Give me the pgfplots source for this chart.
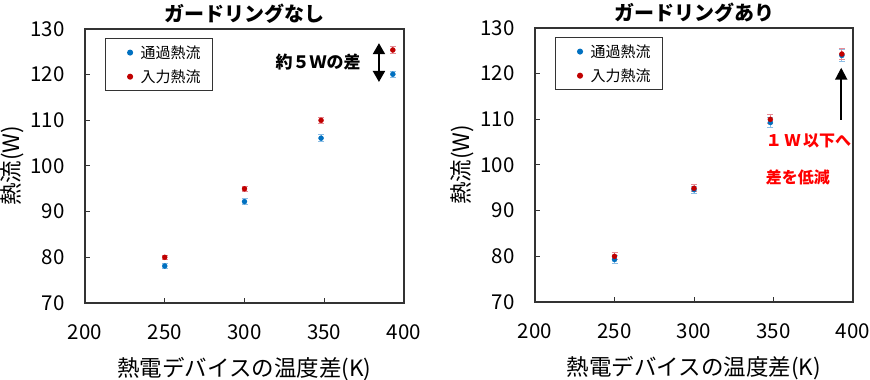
\documentclass[border=0pt]{standalone}
\usepackage{fontspec}
\setmainfont{Noto Sans CJK JP}
\usepackage{pgfplots}
\pgfplotsset{compat=1.18}
\usetikzlibrary{arrows.meta}
\definecolor{cblue}{RGB}{0,112,192}
\definecolor{cred}{RGB}{192,0,0}
\definecolor{eblue}{RGB}{140,190,230}
\definecolor{ered}{RGB}{230,140,150}
\pgfplotsset{myax/.style={
  scale only axis, height=274pt,
  xmin=200,xmax=400,ymin=70,ymax=130,
  xtick={200,250,...,400}, ytick={70,80,...,130},
  tick pos=left, tick align=inside, major tick length=5pt,
  axis line style={black!80, line width=1.2pt},
  every tick/.style={black!80, line width=1pt},
  /pgf/number format/assume math mode=true,
  tick label style={font=\fontsize{20.5}{20.5}\selectfont},
  xticklabel style={yshift=-18pt},
  yticklabel style={xshift=-17pt},
  label style={font=\fontsize{22.5}{22.5}\selectfont},
  xlabel={熱電デバイスの温度差(K)},
  ylabel={熱流(W)},
  xlabel style={at={(axis description cs:0.5,-0.243)},anchor=center},
  ylabel style={at={(axis description cs:-0.228,0.5)},anchor=center},
  title style={font=\bfseries\fontsize{20}{20}\selectfont, yshift=-4pt},
  legend style={draw=black!80, line width=1pt, font=\fontsize{15}{15}\selectfont,
     at={(0.063,0.967)}, anchor=north west, inner xsep=10pt, inner ysep=5pt,
     row sep=6pt},
  legend cell align=left,
  error bars/y dir=both, error bars/y explicit,
}}
\pgfplotsset{myleg/.style={legend image code/.code={%
  \draw[draw opacity=0] (0pt,0pt) -- (22pt,0pt);
  \draw[##1] plot coordinates {(14pt,0pt)};}}}
\begin{document}
\begin{tikzpicture}
\useasboundingbox (0,0) rectangle (870pt,380pt);
\begin{axis}[myax, width=319pt, at={(85pt,77pt)}, anchor=south west, title={ガードリングなし}]
\addplot[only marks, mark=*, mark size=2.5pt, cblue, mark options={cblue}, myleg,
  error bars/error bar style={eblue, line width=1pt},
  error bars/error mark options={rotate=90, mark size=3pt, eblue, line width=1pt}]
  coordinates {(250,78.1) +- (0,0.5) (300,92.2) +- (0,0.6) (348,106.1) +- (0,0.7) (393,120.1) +- (0,0.7)};
\addlegendentry{通過熱流}
\addplot[only marks, mark=*, mark size=2.5pt, cred, mark options={cred}, myleg,
  error bars/error bar style={ered, line width=1pt},
  error bars/error mark options={rotate=90, mark size=3pt, ered, line width=1pt}]
  coordinates {(250,80.0) +- (0,0.5) (300,95.0) +- (0,0.6) (348,110.0) +- (0,0.7) (393,125.4) +- (0,0.8)};
\addlegendentry{入力熱流}
\draw[{Triangle[width=12pt,length=11pt]}-{Triangle[width=12pt,length=11pt]}, line width=2pt] (axis cs:384.3,118.4) -- (axis cs:384.3,126.9);
\node[anchor=east, font=\bfseries\fontsize{17}{17}\selectfont] at (axis cs:375,122.8) {約５Ｗの差};
\end{axis}
\begin{axis}[myax, width=318pt, at={(535pt,78pt)}, anchor=south west, title={ガードリングあり}]
\addplot[only marks, mark=*, mark size=2.5pt, cblue, mark options={cblue}, myleg,
  error bars/error bar style={eblue, line width=1pt},
  error bars/error mark options={rotate=90, mark size=3pt, eblue, line width=1pt}]
  coordinates {(250,79.3) +- (0,0.8) (300,94.6) +- (0,0.8) (348,109.3) +- (0,1.0) (393,124.0) +- (0,1.3)};
\addlegendentry{通過熱流}
\addplot[only marks, mark=*, mark size=2.5pt, cred, mark options={cred}, myleg,
  error bars/error bar style={ered, line width=1pt},
  error bars/error mark options={rotate=90, mark size=3pt, ered, line width=1pt}]
  coordinates {(250,80.0) +- (0,0.8) (300,94.9) +- (0,0.8) (348,110.0) +- (0,1.0) (393,124.3) +- (0,1.3)};
\addlegendentry{入力熱流}
\draw[-{Triangle[width=12pt,length=12pt]}, line width=2pt] (axis cs:392.6,109.9) -- (axis cs:392.6,121.3);
\node[anchor=west, red, font=\bfseries\fontsize{16}{16}\selectfont] at (axis cs:343,105.3) {１\,Ｗ\,以下へ};
\node[anchor=west, red, font=\bfseries\fontsize{16}{16}\selectfont] at (axis cs:343,97.2) {差を低減};
\end{axis}
\end{tikzpicture}
\end{document}
